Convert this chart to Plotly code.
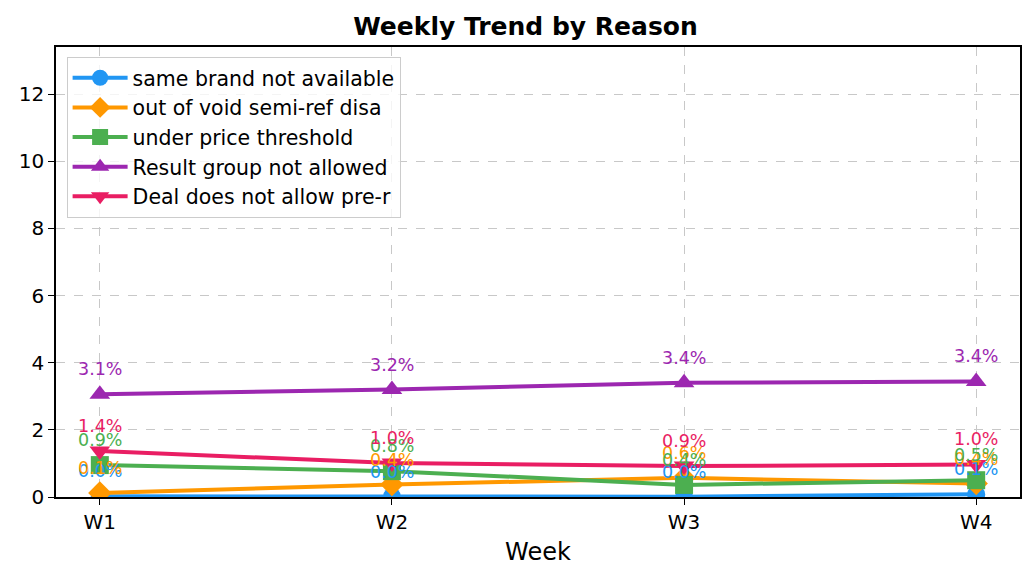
import plotly.graph_objects as go

# ── data (percent share per week) ────────────────────────────────────────────
weeks = ["W1", "W2", "W3", "W4"]

reasons = [
    "same brand not available",
    "out of void semi-ref disa",
    "under price threshold",
    "Result group not allowed",
    "Deal does not allow pre-r",
]

same_brand   = [0.02, 0.01, 0.01, 0.08]
void_semiref = [0.12, 0.37, 0.57, 0.40]
price_thresh = [0.95, 0.77, 0.36, 0.50]
result_group = [3.06, 3.20, 3.40, 3.44]
deal_prer    = [1.37, 1.01, 0.92, 0.97]

series = [same_brand, void_semiref, price_thresh, result_group, deal_prer]

COLORS  = ["#2196F3", "#FF9800", "#4CAF50", "#9C27B0", "#E91E63"]
SYMBOLS = ["circle", "diamond", "square", "triangle-up", "triangle-down"]

FONT = "DejaVu Sans"
PAGE_OFFSET = 8  # browser body margin shifts the figure

fig = go.Figure()
annotations = []

for name, vals, col, sym in zip(reasons, series, COLORS, SYMBOLS):
    fig.add_trace(go.Scatter(
        x=weeks, y=vals, name=name,
        mode="lines+markers",
        line=dict(color=col, width=4),
        marker=dict(symbol=sym, size=18, color=col),
    ))
    for w, v in zip(weeks, vals):
        annotations.append(dict(
            x=w, y=v, text=f"{v:.1f}%", showarrow=False,
            yshift=25, font=dict(color=col, size=17.5, family=FONT),
        ))

fig.update_layout(
    width=1035, height=579,
    margin=dict(l=56 - PAGE_OFFSET, r=15 + PAGE_OFFSET,
                t=47 - PAGE_OFFSET, b=82 + PAGE_OFFSET, autoexpand=False),
    paper_bgcolor="white", plot_bgcolor="white",
    font=dict(family=FONT, size=20, color="black"),
    title=dict(text="<b>Weekly Trend by Reason</b>", x=0.5, xanchor="center",
               y=1 - (26 - PAGE_OFFSET) / 579, yref="container", yanchor="middle",
               font=dict(size=25, family=FONT)),
    showlegend=True,
    legend=dict(x=0.011, y=0.978, xanchor="left", yanchor="top",
                bgcolor="rgba(255,255,255,0.8)", bordercolor="#cccccc",
                borderwidth=1, font=dict(size=20.5, family=FONT),
                itemwidth=55, tracegroupgap=0),
    annotations=annotations,
)

fig.update_xaxes(
    type="category", range=[-0.15, 3.15], automargin=False,
    showline=True, linecolor="black", linewidth=1.5, mirror=True,
    ticks="outside", ticklen=6, tickcolor="black",
    showgrid=True, gridcolor="#c8c8c8", griddash="dash", gridwidth=1,
    title=dict(text="Week", font=dict(size=24, family=FONT), standoff=10),
    tickfont=dict(size=20),
    zeroline=False,
)
fig.update_yaxes(
    range=[0, 13.4], dtick=2, automargin=False,
    showline=True, linecolor="black", linewidth=1.5, mirror=True,
    ticks="outside", ticklen=6, tickcolor="black",
    showgrid=True, gridcolor="#c8c8c8", griddash="dash", gridwidth=1,
    tickfont=dict(size=20),
    zeroline=False,
)

fig.write_html("out.html")
